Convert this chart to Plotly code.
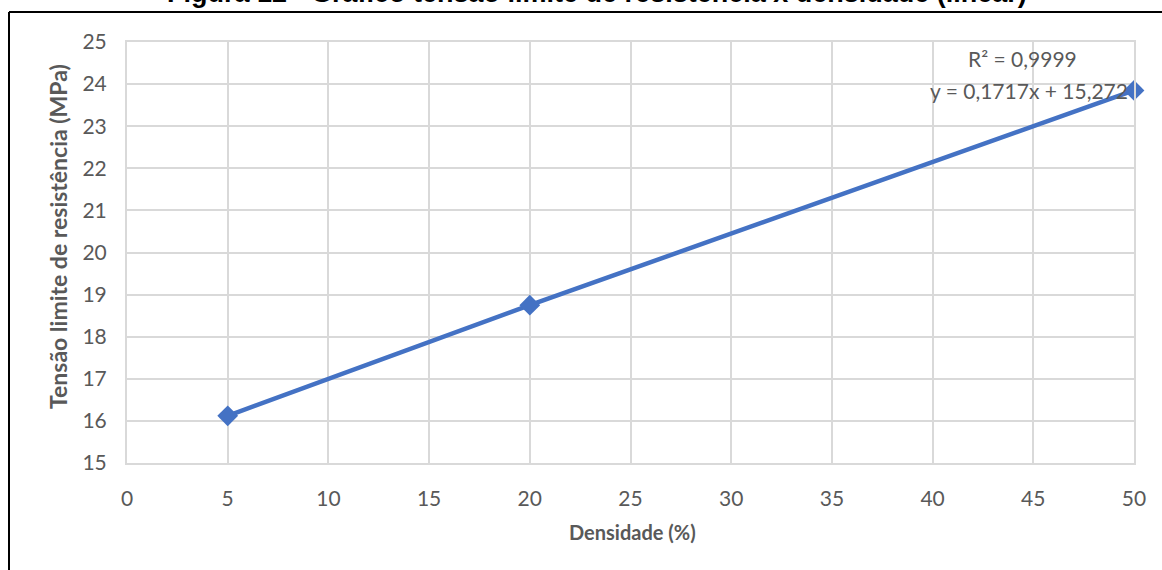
import plotly.graph_objects as go

# Densidade (%) e tensão limite de resistência (MPa)
densidade = [5, 20, 50]
tensao = [16.12, 18.75, 23.85]

x_ticks = [0, 5, 10, 15, 20, 25, 30, 35, 40, 45, 50]
y_ticks = [15, 16, 17, 18, 19, 20, 21, 22, 23, 24, 25]

titulo = "Figura 12 - Gráfico tensão limite de resistência x densidade (linear)"
eq_r2 = "R² = 0,9999"
eq_reta = "y = 0,1717x + 15,272"

W, H = 1162, 570
ML, MR, MT, MB = 127, 28, 42, 107
pw, ph = W - ML - MR, H - MT - MB


def px_x(p):
    return (p - ML) / pw


def px_y(p):
    return 1 - (p - MT) / ph


grid = "#d9d9d9"
txt = "#595959"
blue = "#4472C4"
font_fam = "Lato, 'Open Sans', sans-serif"

fig = go.Figure()
fig.add_trace(go.Scatter(
    x=densidade, y=tensao, mode="lines+markers",
    line=dict(color=blue, width=4.5),
    marker=dict(symbol="diamond", size=16, color=blue),
    showlegend=False, cliponaxis=False,
))

fig.update_layout(
    width=W, height=H,
    margin=dict(l=ML, r=MR, t=MT, b=MB),
    paper_bgcolor="white", plot_bgcolor="white",
    font=dict(family=font_fam, color=txt, size=21),
    xaxis=dict(
        range=[0, 50], tickvals=x_ticks, showgrid=True, gridcolor=grid, gridwidth=2,
        zeroline=False, showline=True, linecolor=grid, linewidth=2, mirror=True,
        ticks="", ticklabelstandoff=16, tickfont=dict(size=21, color=txt),
    ),
    yaxis=dict(
        range=[15, 25], tickvals=y_ticks, showgrid=True, gridcolor=grid, gridwidth=2,
        zeroline=False, showline=True, linecolor=grid, linewidth=2, mirror=True,
        ticks="", ticklabelstandoff=14, tickfont=dict(size=21, color=txt),
    ),
    annotations=[
        dict(text="<b>Densidade (%)</b>", xref="paper", yref="paper", x=px_x(632), y=px_y(532),
             showarrow=False, font=dict(size=20, color=txt), xanchor="center", yanchor="middle"),
        dict(text="<b>Tensão limite de resistência (MPa)</b>", xref="paper", yref="paper",
             x=px_x(58), y=px_y(237), textangle=-90,
             showarrow=False, font=dict(size=23, color=txt), xanchor="center", yanchor="middle"),
        dict(text=eq_r2, xref="paper", yref="paper", x=px_x(1022), y=px_y(58),
             showarrow=False, font=dict(size=21, color=txt), xanchor="center", yanchor="middle"),
        dict(text=eq_reta, xref="paper", yref="paper", x=px_x(1029), y=px_y(91),
             showarrow=False, font=dict(size=21, color=txt), xanchor="center", yanchor="middle"),
        dict(text="<b>" + titulo + "</b>", xref="paper", yref="paper", x=px_x(597), y=px_y(10),
             showarrow=False, font=dict(size=27, color="black", family="Liberation Sans, Arial, sans-serif"),
             xanchor="center", yanchor="bottom"),
    ],
    shapes=[
        dict(type="line", xref="paper", yref="paper", x0=px_x(9), x1=px_x(W + 5),
             y0=px_y(12), y1=px_y(12), line=dict(color="black", width=2)),
        dict(type="line", xref="paper", yref="paper", x0=px_x(9), x1=px_x(9),
             y0=px_y(12), y1=px_y(H + 5), line=dict(color="black", width=2)),
    ],
)

fig.write_html("out.html")
